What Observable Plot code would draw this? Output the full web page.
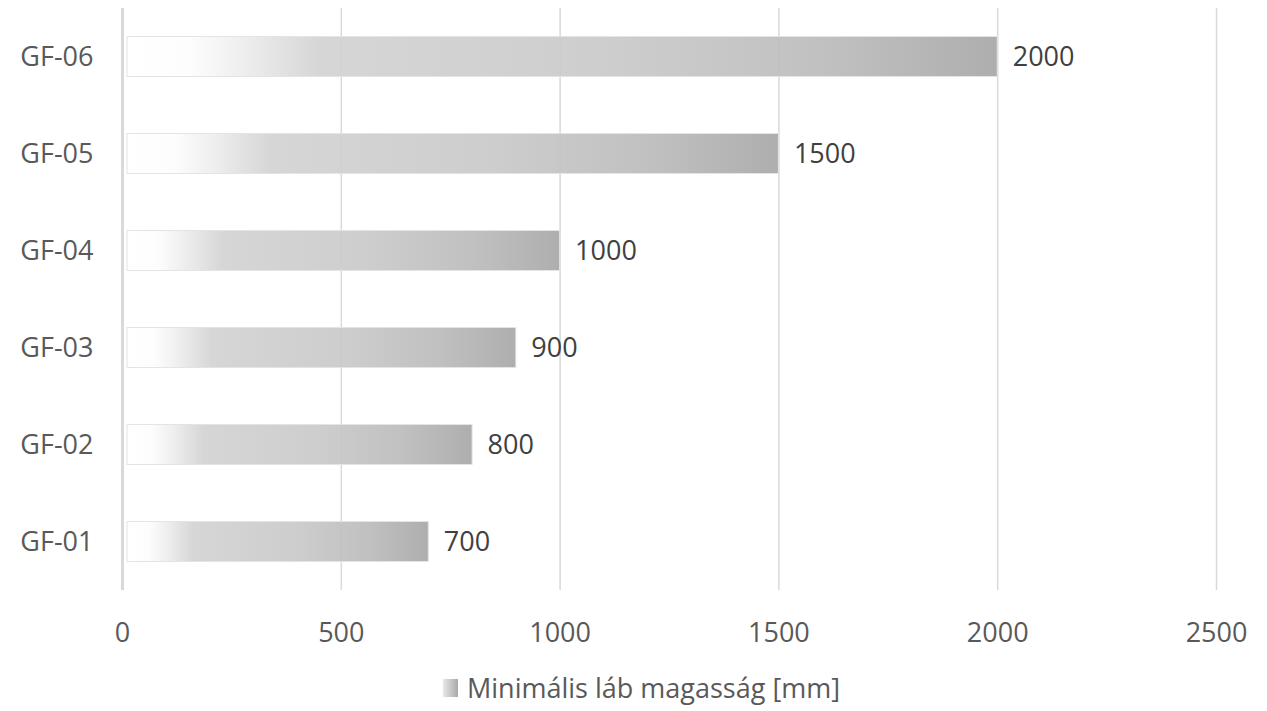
<!DOCTYPE html>
<html>
<head>
<meta charset="utf-8">
<script src="https://cdn.jsdelivr.net/npm/d3@7"></script>
<script src="https://cdn.jsdelivr.net/npm/@observablehq/plot@0.6"></script>
<style>
  body { margin: 0; background: #fff; font-family: "Open Sans", sans-serif; }
  #chart svg { display: block; }
  #legend { display: flex; justify-content: flex-start; align-items: center; color: #595959; font-size: 27px; line-height: 36px; padding-left: 443px; margin-top: 4px; }
  #legend .sw { width: 15px; height: 18px; margin-right: 9px; background: linear-gradient(to right, #e8e8e8, #a8a8a8); }
</style>
</head>
<body>
<div id="chart"></div>
<div id="legend"><span class="sw"></span><span id="legendText"></span></div>
<script>
const categories = ["GF-01", "GF-02", "GF-03", "GF-04", "GF-05", "GF-06"];
const values = [700, 800, 900, 1000, 1500, 2000];
const xTicks = [0, 500, 1000, 1500, 2000, 2500];
const seriesName = "Minimális láb magasság [mm]";

const data = categories.map((c, i) => ({cat: c, value: values[i]}));
document.getElementById("legendText").textContent = seriesName;

const defs = () => {
  const d = d3.create("svg:defs");
  const g = d.append("linearGradient").attr("id", "barGrad").attr("x1", 0).attr("x2", 1).attr("y1", 0).attr("y2", 0);
  [[0, "#ffffff"], [0.07, "#fdfdfd"], [0.13, "#eeeeee"], [0.22, "#d3d3d3"], [0.55, "#cacaca"], [0.8, "#bcbcbc"], [1, "#a8a8a8"]]
    .forEach(([o, c]) => g.append("stop").attr("offset", o).attr("stop-color", c));
  return d.node();
};

const chart = Plot.plot({
  width: 1267,
  height: 666,
  marginLeft: 122,
  marginRight: 51,
  marginTop: 8,
  marginBottom: 76,
  style: {fontFamily: "Open Sans, sans-serif", fontSize: "27px", color: "#595959", background: "#fff"},
  x: {domain: [0, 2500], ticks: xTicks, label: null},
  y: {domain: categories.slice().reverse(), padding: 0, label: null},
  marks: [
    defs,
    Plot.ruleX(xTicks.slice(1), {stroke: "#d9d9d9", strokeWidth: 1.5}),
    Plot.barX(data, {x: "value", y: "cat", fill: "url(#barGrad)", stroke: "#e4e4e4", strokeWidth: 1, insetLeft: 5, insetTop: 28.5, insetBottom: 28.5, fillOpacity: 0.93}),
    Plot.ruleX([0], {stroke: "#d9d9d9", strokeWidth: 3}),
    Plot.text(data, {x: "value", y: "cat", text: d => String(d.value), dx: 15, textAnchor: "start", fill: "#404040", fontSize: 27}),
    Plot.axisX({ticks: xTicks, tickSize: 0, tickPadding: 32, tickFormat: d => String(d), fontSize: 27, fill: "#595959"}),
    Plot.axisY({tickSize: 0, tickPadding: 29, fontSize: 27, fill: "#595959"})
  ]
});
document.getElementById("chart").appendChild(chart);
</script>
</body>
</html>
